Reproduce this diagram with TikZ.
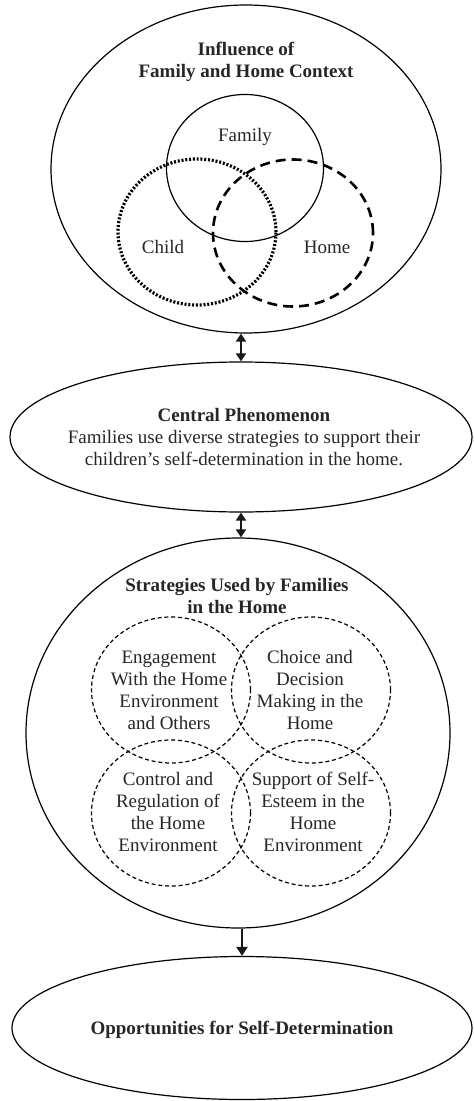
\documentclass[tikz,border=0pt]{standalone}
\usepackage{fontspec}
\setmainfont{Liberation Serif}
\usetikzlibrary{shapes.geometric,arrows.meta}

\begin{document}
\begin{tikzpicture}[
    x=0.5pt, y=-0.5pt,
    every node/.style={
        font=\fontsize{9.5pt}{11pt}\selectfont, text=black!85
    },
    bigOval/.style={
        ellipse, draw=black, line width=0.6pt, inner sep=0pt
    },
    familyRing/.style={
        ellipse, draw=black, line width=0.6pt, inner sep=0pt,
        minimum width=78.5pt, minimum height=73.5pt
    },
    childRing/.style={
        ellipse, draw=black, line width=1.6pt, inner sep=0pt,
        dash pattern={on 1pt off 0.9pt},
        minimum width=79pt, minimum height=73pt
    },
    homeRing/.style={
        ellipse, draw=black, line width=1.3pt, inner sep=0pt,
        dash pattern={on 5pt off 3pt},
        minimum width=80pt, minimum height=73.5pt
    },
    stratRing/.style={
        ellipse, draw=black, line width=0.6pt, inner sep=0pt,
        dash pattern={on 2pt off 1.4pt},
        minimum width=79.5pt, minimum height=73pt
    },
    titleText/.style={
        align=center, inner sep=0pt,
        font=\fontsize{9.5pt}{11pt}\selectfont\bfseries
    },
    bodyText/.style={align=center, inner sep=0pt},
    flowArrow/.style={
        line width=1.3pt, draw=black!90
    }
]
    \useasboundingbox (0,0) rectangle (473,1101);

    % Influence of family and home
    \node[bigOval, minimum width=195pt, minimum height=164pt] (influence) at (246,169) {};
    \node[titleText] (influenceTitle) at (246,62) {Influence of\\Family and Home Context};
    \node[familyRing] (familyRing) at (245,168) {};
    \node[childRing] (childRing) at (197,232) {};
    \node[homeRing] (homeRing) at (293,233) {};
    \node[bodyText] (familyText) at (245,137) {Family};
    \node[bodyText] (childText) at (163,247) {Child};
    \node[bodyText] (homeText) at (327,247) {Home};

    % Central phenomenon
    \node[bigOval, minimum width=231pt, minimum height=75pt] (central) at (241,437) {};
    \node[bodyText] (centralText) at (244,437) {\textbf{Central Phenomenon}\\
        Families use diverse strategies to support their\\
        children's self-determination in the home.};

    % Strategies
    \node[bigOval, minimum width=212pt, minimum height=195pt] (strategies) at (238,733) {};
    \node[titleText] (strategiesTitle) at (237,596) {Strategies Used by Families\\in the Home};
    \node[stratRing] (engageRing) at (171,690) {};
    \node[stratRing] (choiceRing) at (311,690) {};
    \node[stratRing] (controlRing) at (171,813) {};
    \node[stratRing] (esteemRing) at (311,813) {};
    \node[bodyText] (engageText) at (169,690) {Engagement\\With the Home\\Environment\\and Others};
    \node[bodyText] (choiceText) at (310,690) {Choice and\\Decision\\Making in the\\Home};
    \node[bodyText] (controlText) at (168,812) {Control and\\Regulation of\\the Home\\Environment};
    \node[bodyText] (esteemText) at (313,812) {Support of Self-\\Esteem in the\\Home\\Environment};

    % Outcome
    \node[bigOval, minimum width=230pt, minimum height=71.5pt] (outcome) at (242,1028) {};
    \node[titleText] (outcomeText) at (242,1030) {Opportunities for Self-Determination};

    % Flows
    \draw[flowArrow, {Triangle[width=5pt,length=4pt]}-{Triangle[width=5pt,length=4pt]}]
        (influence.south -| central.north) -- (central.north);
    \draw[flowArrow, {Triangle[width=5pt,length=4pt]}-{Triangle[width=5pt,length=4pt]}]
        (central.south) -- (central.south |- strategies.north);
    \draw[flowArrow, -{Triangle[width=5.5pt,length=4.5pt]}]
        (strategies.south -| outcome.north) -- (outcome.north);

\end{tikzpicture}
\end{document}
